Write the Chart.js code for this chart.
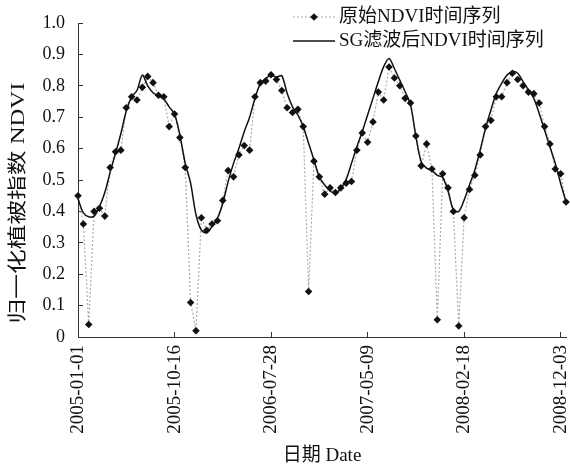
<!DOCTYPE html>
<html>
<head>
<meta charset="utf-8">
<script src="https://cdn.jsdelivr.net/npm/chart.js@4.4.1/dist/chart.umd.min.js"></script>
<style>
  html, body { margin: 0; padding: 0; background: #fff; }
  canvas { display: block; }
</style>
</head>
<body>
<canvas id="ndvi" width="570" height="470"></canvas>
<script>
// 16-day composites, 2005-01-01 .. 2008-12 (index 0..91)
const tickLabels = ['2005-01-01', '2005-10-16', '2006-07-28', '2007-05-09', '2008-02-18', '2008-12-03'];
const tickEvery = 18;

const seriesNames = ['原始NDVI时间序列', 'SG滤波后NDVI时间序列'];

const rawNdvi = [
  0.45, 0.36, 0.04, 0.40, 0.41, 0.385, 0.54, 0.59, 0.595, 0.73,
  0.765, 0.755, 0.795, 0.83, 0.81, 0.77, 0.765, 0.67, 0.71, 0.635,
  0.54, 0.11, 0.02, 0.38, 0.34, 0.36, 0.37, 0.435, 0.53, 0.51,
  0.58, 0.61, 0.595, 0.765, 0.81, 0.815, 0.835, 0.82, 0.785, 0.73,
  0.715, 0.725, 0.67, 0.145, 0.56, 0.51, 0.455, 0.475, 0.46, 0.475,
  0.49, 0.495, 0.595, 0.65, 0.62, 0.685, 0.78, 0.755, 0.86, 0.825,
  0.80, 0.76, 0.745, 0.64, 0.545, 0.615, 0.535, 0.055, 0.52, 0.475,
  0.40, 0.035, 0.38, 0.47, 0.515, 0.58, 0.67, 0.69, 0.765, 0.765,
  0.81, 0.84, 0.82, 0.80, 0.78, 0.775, 0.745, 0.67, 0.615, 0.535,
  0.52, 0.43
];

const sgNdvi = [
  0.44, 0.395, 0.383, 0.385, 0.415, 0.46, 0.525, 0.585, 0.648, 0.72,
  0.765, 0.785, 0.834, 0.80, 0.778, 0.768, 0.758, 0.733, 0.71, 0.643,
  0.553, 0.49, 0.39, 0.34, 0.332, 0.352, 0.378, 0.426, 0.495, 0.553,
  0.60, 0.654, 0.70, 0.76, 0.807, 0.823, 0.834, 0.828, 0.832, 0.776,
  0.733, 0.707, 0.67, 0.617, 0.564, 0.51, 0.484, 0.465, 0.458, 0.472,
  0.502, 0.553, 0.606, 0.654, 0.707, 0.76, 0.813, 0.861, 0.887, 0.855,
  0.818, 0.781, 0.74, 0.64, 0.558, 0.538, 0.53, 0.515, 0.508, 0.465,
  0.405, 0.40, 0.436, 0.484, 0.532, 0.596, 0.665, 0.723, 0.776, 0.808,
  0.834, 0.845, 0.84, 0.813, 0.787, 0.76, 0.712, 0.659, 0.606, 0.553,
  0.489, 0.431
];

const xTitle = '日期 Date';
const yTitle = '归一化植被指数 NDVI';

const FONT = "'Liberation Serif', 'Noto Sans CJK SC', serif";
const INK = '#111';
const AXIS = '#333';

const toXY = arr => arr.map((v, i) => ({ x: i, y: v }));

// Two-row legend in the upper right corner of the plot
const cornerLegend = {
  id: 'cornerLegend',
  afterDraw(chart) {
    const ctx = chart.ctx;
    const x0 = 293, x1 = 335, tx = 339;
    const rowsY = [17, 41];
    chart.data.datasets.forEach((d, k) => {
      const y = rowsY[k];
      ctx.save();
      ctx.strokeStyle = d.borderColor;
      ctx.lineWidth = d.borderWidth;
      ctx.setLineDash(d.borderDash || []);
      ctx.beginPath();
      ctx.moveTo(x0, y);
      ctx.lineTo(x1, y);
      ctx.stroke();
      ctx.setLineDash([]);
      if (d.pointRadius > 0) {
        const r = d.pointRadius, cx = (x0 + x1) / 2;
        ctx.fillStyle = d.pointBackgroundColor;
        ctx.beginPath();
        ctx.moveTo(cx, y - r); ctx.lineTo(cx + r, y); ctx.lineTo(cx, y + r); ctx.lineTo(cx - r, y);
        ctx.closePath();
        ctx.fill();
      }
      ctx.fillStyle = INK;
      ctx.font = '19px ' + FONT;
      ctx.textBaseline = 'middle';
      ctx.textAlign = 'left';
      ctx.fillText(d.label, tx, y);
      ctx.restore();
    });
  }
};

// Vertical axis title, slightly stretched along its length
const sideTitle = {
  id: 'sideTitle',
  afterDraw(chart) {
    const ctx = chart.ctx;
    ctx.save();
    ctx.translate(19, 203);
    ctx.rotate(-Math.PI / 2);
    ctx.scale(1.3, 1);
    ctx.fillStyle = INK;
    ctx.font = '19px ' + FONT;
    ctx.textAlign = 'center';
    ctx.textBaseline = 'middle';
    ctx.fillText(yTitle, 0, 0);
    ctx.restore();
  }
};

new Chart(document.getElementById('ndvi'), {
  type: 'line',
  data: {
    datasets: [
      {
        label: seriesNames[0],
        data: toXY(rawNdvi),
        borderColor: '#ababab',
        borderWidth: 1.2,
        borderDash: [2, 2],
        pointStyle: 'rectRot',
        pointRadius: 3.8,
        pointBackgroundColor: INK,
        pointBorderWidth: 0,
        tension: 0,
        clip: 10,
        order: 1
      },
      {
        label: seriesNames[1],
        data: toXY(sgNdvi),
        borderColor: INK,
        borderWidth: 1.5,
        pointRadius: 0,
        tension: 0.3,
        clip: 10,
        order: 0
      }
    ]
  },
  options: {
    responsive: false,
    animation: false,
    layout: { padding: { top: 23, right: 0, bottom: 0, left: 0 } },
    plugins: {
      legend: { display: false },
      tooltip: { enabled: false }
    },
    scales: {
      x: {
        type: 'linear',
        min: 0,
        max: rawNdvi.length - 1,
        afterFit(s) { s.height = 133; s.paddingLeft = 0; s.paddingRight = 0; },
        border: { display: true, color: AXIS, width: 1 },
        grid: { drawOnChartArea: false, drawTicks: true, tickLength: -5, color: AXIS },
        ticks: {
          stepSize: tickEvery,
          includeBounds: false,
          autoSkip: false,
          minRotation: 90,
          maxRotation: 90,
          padding: 13,
          color: INK,
          font: { family: FONT, size: 19 },
          callback: v => tickLabels[v / tickEvery] ?? ''
        },
        title: {
          display: true,
          text: xTitle,
          color: INK,
          font: { family: FONT, size: 19 },
          padding: { top: 0, bottom: 3 }
        }
      },
      y: {
        type: 'linear',
        min: 0,
        max: 1,
        afterFit(s) { s.width = 78; s.paddingTop = 0; s.paddingBottom = 0; },
        border: { display: true, color: AXIS, width: 1 },
        grid: { drawOnChartArea: false, drawTicks: true, tickLength: -5, color: AXIS },
        ticks: {
          stepSize: 0.1,
          padding: 18,
          color: INK,
          font: { family: FONT, size: 18 },
          callback: v => (v === 0 ? '0' : v.toFixed(1))
        }
      }
    }
  },
  plugins: [cornerLegend, sideTitle]
});
</script>
</body>
</html>
